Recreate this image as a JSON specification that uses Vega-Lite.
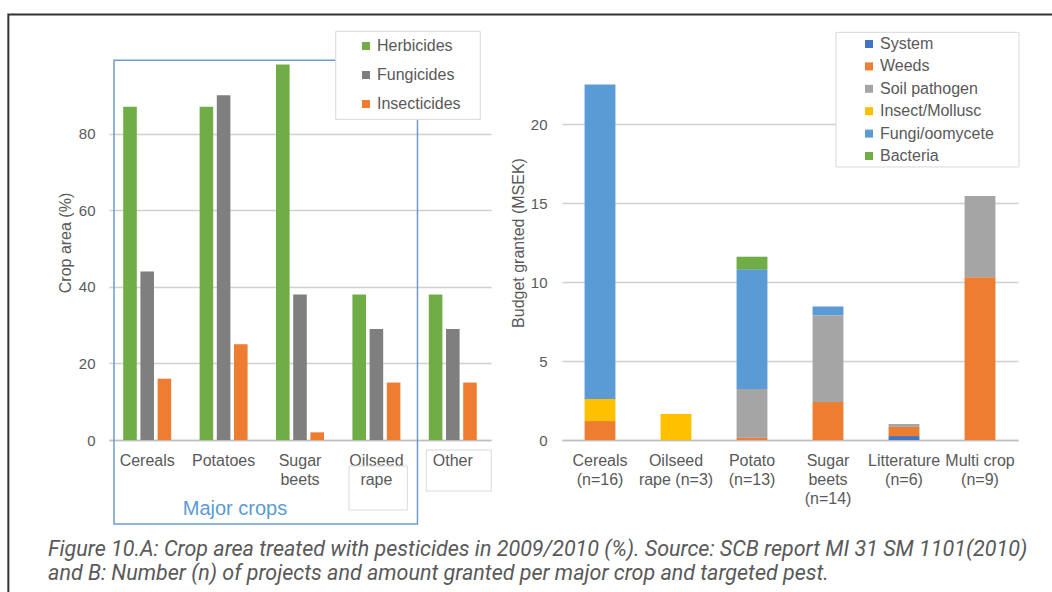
{
  "$schema": "https://vega.github.io/schema/vega-lite/v6.json",
  "autosize": {"type": "none"},
  "padding": {"left": 109, "top": 45, "right": 943, "bottom": 547},
  "background": "white",
  "config": {
    "font": "Liberation Sans",
    "view": {"stroke": null},
    "axis": {"labelColor": "#595959", "titleColor": "#595959", "titleFontWeight": "normal", "titleFontSize": 16, "ticks": false, "gridColor": "#d0d0d0", "gridWidth": 1.5, "domainColor": "#bfbfbf", "domainWidth": 1.5}
  },
  "spacing": 71,
  "bounds": "flush",
  "resolve": {"scale": {"x": "independent", "y": "independent", "color": "independent", "xOffset": "independent"}, "legend": {"color": "independent"}},
  "hconcat": [
    {
      "width": 382,
      "height": 395,
      "data": {"values": [
        {"crop": "Cereals", "type": "Herbicides", "value": 87},
        {"crop": "Cereals", "type": "Fungicides", "value": 44},
        {"crop": "Cereals", "type": "Insecticides", "value": 16},
        {"crop": "Potatoes", "type": "Herbicides", "value": 87},
        {"crop": "Potatoes", "type": "Fungicides", "value": 90},
        {"crop": "Potatoes", "type": "Insecticides", "value": 25},
        {"crop": "Sugar beets", "type": "Herbicides", "value": 98},
        {"crop": "Sugar beets", "type": "Fungicides", "value": 38},
        {"crop": "Sugar beets", "type": "Insecticides", "value": 2},
        {"crop": "Oilseed rape", "type": "Herbicides", "value": 38},
        {"crop": "Oilseed rape", "type": "Fungicides", "value": 29},
        {"crop": "Oilseed rape", "type": "Insecticides", "value": 15},
        {"crop": "Other", "type": "Herbicides", "value": 38},
        {"crop": "Other", "type": "Fungicides", "value": 29},
        {"crop": "Other", "type": "Insecticides", "value": 15}
      ]},
      "layer": [
        {
          "mark": {"type": "bar"},
          "encoding": {
            "x": {"field": "crop", "type": "nominal",
              "scale": {"domain": ["Cereals", "Potatoes", "Sugar beets", "Oilseed rape", "Other"], "paddingInner": 0.372, "paddingOuter": 0.186},
              "axis": {"title": null, "labelAngle": 0, "labelFontSize": 16, "labelPadding": 12, "labelLineHeight": 19, "labelOverlap": false, "labelLimit": 0, "domain": true,
                "labelExpr": "datum.label == 'Sugar beets' ? ['Sugar','beets'] : datum.label == 'Oilseed rape' ? ['Oilseed','rape'] : datum.label"}},
            "xOffset": {"field": "type", "type": "nominal", "scale": {"domain": ["Herbicides", "Fungicides", "Insecticides"], "paddingInner": 0.21, "paddingOuter": 0}},
            "y": {"field": "value", "type": "quantitative",
              "scale": {"domain": [0, 103.1], "nice": false},
              "axis": {"title": "Crop area (%)", "values": [0, 20, 40, 60, 80], "labelFontSize": 15, "labelPadding": 14, "titlePadding": 5, "domain": false, "grid": true}},
            "color": {"field": "type", "type": "nominal",
              "scale": {"domain": ["Herbicides", "Fungicides", "Insecticides"], "range": ["#70AD47", "#7F7F7F", "#ED7D31"]},
              "legend": {"orient": "none", "legendX": 249, "legendY": -7, "title": null, "symbolType": "square", "symbolSize": 64, "symbolStrokeWidth": 0, "labelFontSize": 16, "labelColor": "#595959", "rowPadding": 13, "labelOffset": 3}}
          }
        },
        {
          "data": {"values": [{}]},
          "mark": {"type": "rect", "fill": null, "fillOpacity": 0, "stroke": "#6f9bc8", "strokeWidth": 1.5, "clip": false},
          "encoding": {
            "x": {"datum": "Cereals", "type": "nominal", "bandPosition": -0.192},
            "x2": {"datum": "Oilseed rape", "bandPosition": 1.356},
            "y": {"datum": 99.09, "type": "quantitative"},
            "y2": {"datum": -21.93}
          }
        },
        {
          "data": {"values": [{}]},
          "mark": {"type": "rect", "fill": null, "fillOpacity": 0, "stroke": "#d9d9d9", "strokeWidth": 1, "clip": false},
          "encoding": {
            "x": {"datum": "Oilseed rape", "type": "nominal", "bandPosition": -0.071},
            "x2": {"datum": "Oilseed rape", "bandPosition": 1.144},
            "y": {"datum": -6.79, "type": "quantitative"},
            "y2": {"datum": -18.28}
          }
        },
        {
          "data": {"values": [{}]},
          "mark": {"type": "rect", "fill": null, "fillOpacity": 0, "stroke": "#d9d9d9", "strokeWidth": 1, "clip": false},
          "encoding": {
            "x": {"datum": "Other", "type": "nominal", "bandPosition": -0.052},
            "x2": {"datum": "Other", "bandPosition": 1.302},
            "y": {"datum": -2.61, "type": "quantitative"},
            "y2": {"datum": -13.32}
          }
        },
        {
          "data": {"values": [{}]},
          "mark": {"type": "rect", "fill": "white", "stroke": "#d9d9d9", "strokeWidth": 1, "clip": false},
          "encoding": {
            "x": {"datum": "Oilseed rape", "type": "nominal", "bandPosition": -0.348},
            "x2": {"datum": "Other", "bandPosition": 1.073},
            "y": {"datum": 106.66, "type": "quantitative"},
            "y2": {"datum": 83.68}
          }
        },
        {
          "data": {"values": [{}]},
          "mark": {"type": "text", "text": "Major crops", "fontSize": 20, "color": "#5B9BD5", "align": "center", "baseline": "middle", "clip": false},
          "encoding": {
            "x": {"datum": "Potatoes", "type": "nominal", "bandPosition": 0.7375},
            "y": {"datum": -18.02, "type": "quantitative"}
          }
        },
        {
          "data": {"values": [{}]},
          "mark": {"type": "text", "text": "Figure 10.A: Crop area treated with pesticides in 2009/2010 (%). Source: SCB report MI 31 SM 1101(2010)", "font": "Roboto", "fontStyle": "italic", "fontSize": 21.5, "color": "#595959", "align": "left", "baseline": "middle", "clip": false},
          "encoding": {
            "x": {"datum": "Cereals", "type": "nominal", "bandPosition": -1.567},
            "y": {"datum": -28.6, "type": "quantitative"}
          }
        },
        {
          "data": {"values": [{}]},
          "mark": {"type": "text", "text": "and B: Number (n) of projects and amount granted per major crop and targeted pest.", "font": "Roboto", "fontStyle": "italic", "fontSize": 21.5, "color": "#595959", "align": "left", "baseline": "middle", "clip": false},
          "encoding": {
            "x": {"datum": "Cereals", "type": "nominal", "bandPosition": -1.567},
            "y": {"datum": -35.0, "type": "quantitative"}
          }
        },
        {
          "data": {"values": [{}]},
          "mark": {"type": "rect", "fill": null, "fillOpacity": 0, "stroke": "#333333", "strokeWidth": 2, "clip": false},
          "encoding": {
            "x": {"datum": "Cereals", "type": "nominal", "bandPosition": -2.394},
            "x2": {"datum": "Cereals", "bandPosition": 20.35},
            "y": {"datum": 111.05, "type": "quantitative"},
            "y2": {"datum": -50}
          }
        }
      ]
    },
    {
      "width": 456,
      "height": 395,
      "data": {"values": [
        {"crop": "Cereals (n=16)", "pest": "Weeds", "k": 2, "value": 1.2},
        {"crop": "Cereals (n=16)", "pest": "Insect/Mollusc", "k": 4, "value": 1.4},
        {"crop": "Cereals (n=16)", "pest": "Fungi/oomycete", "k": 5, "value": 19.9},
        {"crop": "Oilseed rape (n=3)", "pest": "Insect/Mollusc", "k": 4, "value": 1.65},
        {"crop": "Potato (n=13)", "pest": "Weeds", "k": 2, "value": 0.15},
        {"crop": "Potato (n=13)", "pest": "Soil pathogen", "k": 3, "value": 3.08},
        {"crop": "Potato (n=13)", "pest": "Fungi/oomycete", "k": 5, "value": 7.57},
        {"crop": "Potato (n=13)", "pest": "Bacteria", "k": 6, "value": 0.8},
        {"crop": "Sugar beets (n=14)", "pest": "Weeds", "k": 2, "value": 2.4},
        {"crop": "Sugar beets (n=14)", "pest": "Soil pathogen", "k": 3, "value": 5.5},
        {"crop": "Sugar beets (n=14)", "pest": "Fungi/oomycete", "k": 5, "value": 0.55},
        {"crop": "Litterature (n=6)", "pest": "System", "k": 1, "value": 0.25},
        {"crop": "Litterature (n=6)", "pest": "Weeds", "k": 2, "value": 0.58},
        {"crop": "Litterature (n=6)", "pest": "Soil pathogen", "k": 3, "value": 0.18},
        {"crop": "Multi crop (n=9)", "pest": "Weeds", "k": 2, "value": 10.3},
        {"crop": "Multi crop (n=9)", "pest": "Soil pathogen", "k": 3, "value": 5.15}
      ]},
      "layer": [
        {
          "mark": {"type": "bar"},
          "encoding": {
            "x": {"field": "crop", "type": "nominal",
              "scale": {"domain": ["Cereals (n=16)", "Oilseed rape (n=3)", "Potato (n=13)", "Sugar beets (n=14)", "Litterature (n=6)", "Multi crop (n=9)"], "paddingInner": 0.594, "paddingOuter": 0.297},
              "axis": {"title": null, "labelAngle": 0, "labelFontSize": 16, "labelPadding": 12, "labelLineHeight": 19, "labelOverlap": false, "labelLimit": 0, "domain": true,
                "labelExpr": "datum.label == 'Cereals (n=16)' ? ['Cereals','(n=16)'] : datum.label == 'Oilseed rape (n=3)' ? ['Oilseed','rape (n=3)'] : datum.label == 'Potato (n=13)' ? ['Potato','(n=13)'] : datum.label == 'Sugar beets (n=14)' ? ['Sugar','beets','(n=14)'] : datum.label == 'Litterature (n=6)' ? ['Litterature','(n=6)'] : ['Multi crop','(n=9)']"}},
            "y": {"field": "value", "type": "quantitative", "stack": "zero",
              "scale": {"domain": [0, 25], "nice": false},
              "axis": {"title": "Budget granted (MSEK)", "values": [0, 5, 10, 15, 20], "labelFontSize": 15, "labelPadding": 15, "titlePadding": 4, "domain": false, "grid": true}},
            "order": {"field": "k", "type": "quantitative"},
            "color": {"field": "pest", "type": "nominal",
              "scale": {"domain": ["System", "Weeds", "Soil pathogen", "Insect/Mollusc", "Fungi/oomycete", "Bacteria"], "range": ["#4472C4", "#ED7D31", "#A5A5A5", "#FFC000", "#5B9BD5", "#70AD47"]},
              "legend": {"orient": "none", "legendX": 299, "legendY": -9, "title": null, "symbolType": "square", "symbolSize": 64, "symbolStrokeWidth": 0, "labelFontSize": 16, "labelColor": "#595959", "rowPadding": 6.4, "labelOffset": 3}}
          }
        },
        {
          "data": {"values": [{}]},
          "mark": {"type": "rect", "fill": "white", "stroke": "#d9d9d9", "strokeWidth": 1, "clip": false},
          "encoding": {
            "x": {"datum": "Sugar beets (n=14)", "type": "nominal", "bandPosition": 0.758},
            "x2": {"datum": "Multi crop (n=9)", "bandPosition": 1.763},
            "y": {"datum": 25.8, "type": "quantitative"},
            "y2": {"datum": 17.28}
          }
        }
      ]
    }
  ]
}
